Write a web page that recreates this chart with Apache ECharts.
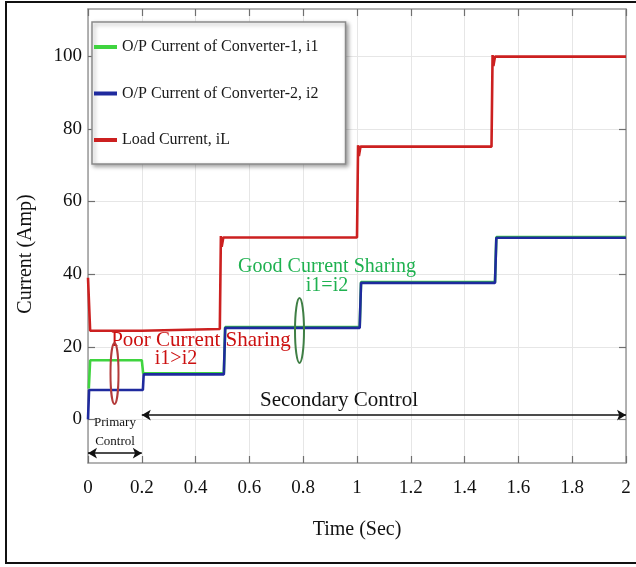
<!DOCTYPE html>
<html>
<head>
<meta charset="utf-8">
<script src="https://cdn.jsdelivr.net/npm/echarts@6/dist/echarts.min.js"></script>
<style>html,body{margin:0;padding:0;background:#fff;}#c{width:636px;height:567px;}</style>
</head>
<body>
<div id="c"></div>
<script>
// ---- data ----
const seriesNames = ['O/P Current of Converter-1, i1', 'O/P Current of Converter-2, i2', 'Load Current, iL'];
const i1Time  = [0.003, 0.008, 0.2, 0.205, 0.505, 0.51, 1.01, 1.015, 1.513, 1.518, 2.0];
const i1Value = [8.5, 16.3, 16.3, 12.7, 12.7, 25.4, 25.4, 37.8, 37.8, 50.2, 50.2];
const i2Time  = [0, 0.004, 0.204, 0.207, 0.505, 0.51, 1.01, 1.015, 1.513, 1.518, 2.0];
const i2Value = [0, 8.1, 8.1, 12.4, 12.4, 25.2, 25.2, 37.6, 37.6, 50.0, 50.0];
const iLTime  = [0, 0.008, 0.2, 0.202, 0.49, 0.494, 0.497, 0.503, 1.0, 1.004, 1.007, 1.013, 1.5, 1.504, 1.507, 1.513, 2.0];
const iLValue = [39, 24.4, 24.4, 24.9, 24.9, 50.5, 47.5, 50.1, 50.1, 75.5, 72.5, 75.1, 75.1, 100.3, 97.3, 99.9, 99.9];
const yTicks = [0, 20, 40, 60, 80, 100];
const secondaryArrow = [0.2, 2.0, 1.2];   // from, to, level
const primaryArrow = [0.0, 0.2, -9.3];

function pairs(t, v) { return t.map((x, i) => [x, v[i]]); }

const FONT = '"Liberation Serif", "Times New Roman", serif';
const chart = echarts.init(document.getElementById('c'), null, {renderer: 'canvas'});

const axisLineStyle = {color: '#9a9a9a', width: 1.5};
const tickStyle = {color: '#707070', width: 1.2};

const option = {
  animation: false,
  backgroundColor: '#fff',
  grid: {left: 88, right: 10, top: 9, bottom: 104, containLabel: false},
  legend: {
    data: seriesNames,
    orient: 'vertical',
    left: 92, top: 22,
    padding: [17, 27, 16, 2],
    itemGap: 30.5,
    itemWidth: 23, itemHeight: 4,
    icon: 'rect',
    backgroundColor: '#fff',
    borderColor: '#8a8a8a', borderWidth: 1.5,
    shadowColor: 'rgba(0,0,0,0.35)', shadowBlur: 4, shadowOffsetX: 2, shadowOffsetY: 2,
    textStyle: {fontFamily: FONT, fontSize: 16, color: '#1a1a1a'}
  },
  xAxis: [{
    type: 'value', min: 0, max: 2, interval: 0.2, position: 'bottom',
    name: 'Time (Sec)', nameLocation: 'middle', nameGap: 57,
    nameTextStyle: {fontFamily: FONT, fontSize: 20, color: '#111'},
    axisLine: {show: true, onZero: false, lineStyle: axisLineStyle},
    axisTick: {show: true, inside: true, length: 7, lineStyle: tickStyle},
    axisLabel: {margin: 16, fontFamily: FONT, fontSize: 19, color: '#111',
      formatter: v => String(+v.toFixed(1))},
    splitLine: {show: true, lineStyle: {color: '#e6e6e6', width: 1}}
  }, {
    type: 'value', min: 0, max: 2, interval: 0.2, position: 'top',
    axisLine: {show: true, onZero: false, lineStyle: axisLineStyle},
    axisTick: {show: true, inside: true, length: 7, lineStyle: tickStyle},
    axisLabel: {show: false}, splitLine: {show: false}
  }],
  yAxis: [{
    type: 'value', min: -12, max: 113, position: 'left',
    name: 'Current (Amp)', nameLocation: 'middle', nameGap: 52,
    nameTextStyle: {fontFamily: FONT, fontSize: 20, color: '#111', padding: [0, 36, 0, 0]},
    axisLine: {show: true, onZero: false, lineStyle: axisLineStyle},
    axisTick: {show: true, inside: true, length: 7, lineStyle: tickStyle, customValues: yTicks},
    axisLabel: {margin: 6, fontFamily: FONT, fontSize: 19, color: '#111', customValues: yTicks},
    splitLine: {show: true, lineStyle: {color: '#e6e6e6', width: 1}}
  }, {
    type: 'value', min: -12, max: 113, position: 'right',
    axisLine: {show: true, onZero: false, lineStyle: axisLineStyle},
    axisTick: {show: true, inside: true, length: 7, lineStyle: tickStyle, customValues: yTicks},
    axisLabel: {show: false}, splitLine: {show: false}
  }],
  series: [{
    name: seriesNames[0], type: 'line', showSymbol: false, symbol: 'none',
    data: pairs(i1Time, i1Value),
    lineStyle: {color: '#3fd43f', width: 2.6}, itemStyle: {color: '#3fd43f'}, z: 2
  }, {
    name: seriesNames[1], type: 'line', showSymbol: false, symbol: 'none',
    data: pairs(i2Time, i2Value),
    lineStyle: {color: '#1f2a9e', width: 2.6}, itemStyle: {color: '#1f2a9e'}, z: 3,
    markLine: {
      silent: true, animation: false,
      symbol: ['arrow', 'arrow'], symbolSize: [8, 9],
      label: {show: false},
      lineStyle: {color: '#111', width: 1.6, type: 'solid'},
      data: [
        [{coord: [secondaryArrow[0], secondaryArrow[2]]}, {coord: [secondaryArrow[1], secondaryArrow[2]]}],
        [{coord: [primaryArrow[0], primaryArrow[2]]}, {coord: [primaryArrow[1], primaryArrow[2]]}]
      ]
    }
  }, {
    name: seriesNames[2], type: 'line', showSymbol: false, symbol: 'none',
    data: pairs(iLTime, iLValue),
    lineStyle: {color: '#cc2020', width: 2.6}, itemStyle: {color: '#cc2020'}, z: 4
  }],
  graphic: [
    {type: 'rect', silent: true, z: 100, shape: {x: 6, y: 2, width: 640, height: 561},
      style: {fill: 'none', stroke: '#111', lineWidth: 2}},
    {type: 'text', z: 50, style: {text: 'Good Current Sharing', x: 327, y: 267, fill: '#1fb150',
      font: '20px ' + FONT, align: 'center', verticalAlign: 'middle', textAlign: 'center', textVerticalAlign: 'middle'}},
    {type: 'text', z: 50, style: {text: 'i1=i2', x: 327, y: 286, fill: '#1fb150',
      font: '20px ' + FONT, align: 'center', verticalAlign: 'middle', textAlign: 'center', textVerticalAlign: 'middle'}},
    {type: 'text', z: 50, style: {text: 'Poor Current Sharing', x: 201, y: 340, fill: '#cc1010',
      font: '21px ' + FONT, align: 'center', verticalAlign: 'middle', textAlign: 'center', textVerticalAlign: 'middle'}},
    {type: 'text', z: 50, style: {text: 'i1>i2', x: 176, y: 359, fill: '#cc1010',
      font: '20px ' + FONT, align: 'center', verticalAlign: 'middle', textAlign: 'center', textVerticalAlign: 'middle'}},
    {type: 'text', z: 50, style: {text: 'Secondary Control', x: 339, y: 400, fill: '#111',
      font: '21px ' + FONT, align: 'center', verticalAlign: 'middle', textAlign: 'center', textVerticalAlign: 'middle'}},
    {type: 'text', z: 50, style: {text: 'Primary', x: 115, y: 423, fill: '#111',
      font: '13px ' + FONT, align: 'center', verticalAlign: 'middle', textAlign: 'center', textVerticalAlign: 'middle'}},
    {type: 'text', z: 50, style: {text: 'Control', x: 115, y: 442, fill: '#111',
      font: '13px ' + FONT, align: 'center', verticalAlign: 'middle', textAlign: 'center', textVerticalAlign: 'middle'}},
    {type: 'ellipse', z: 50, shape: {cx: 114.5, cy: 373.5, rx: 4, ry: 30.5},
      style: {fill: 'none', stroke: '#b33a3a', lineWidth: 2}},
    {type: 'ellipse', z: 50, shape: {cx: 299.5, cy: 330.5, rx: 4.5, ry: 32.5},
      style: {fill: 'none', stroke: '#3f7f45', lineWidth: 2}}
  ]
};
chart.setOption(option);
</script>
</body>
</html>
